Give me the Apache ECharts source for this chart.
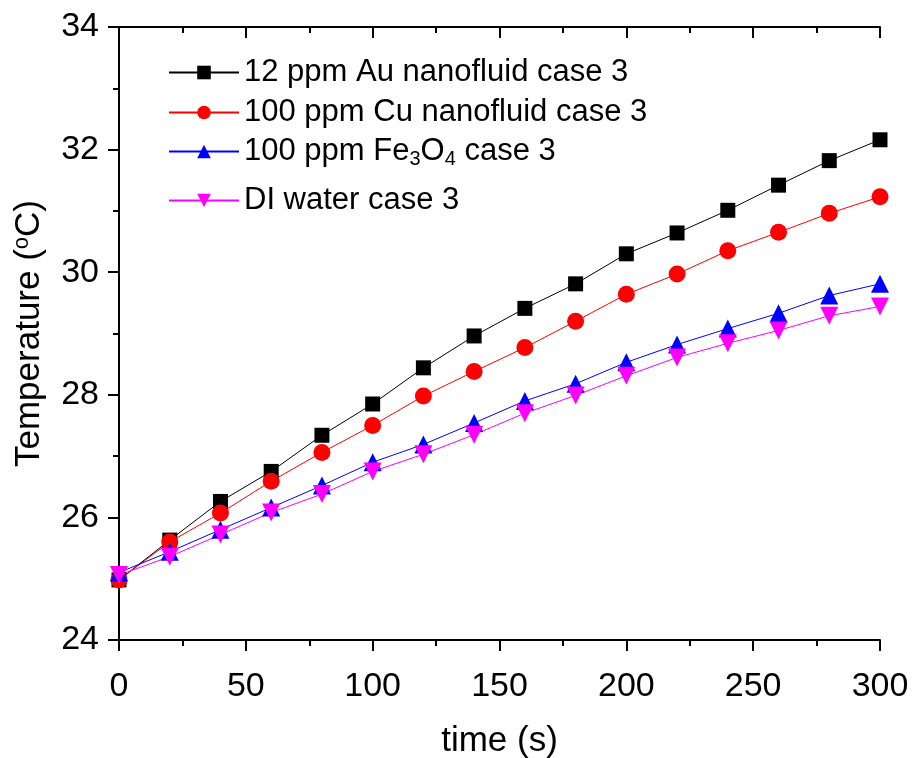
<!DOCTYPE html>
<html>
<head>
<meta charset="utf-8">
<script src="https://cdn.jsdelivr.net/npm/echarts@6/dist/echarts.min.js"></script>
<style>html,body{margin:0;padding:0;background:#fff}#c{width:915px;height:758px}</style>
</head>
<body>
<div id="c"></div>
<script>
const timeS = [0, 20, 40, 60, 80, 100, 120, 140, 160, 180, 200, 220, 240, 260, 280, 300];
const auCase3 = [24.98, 25.63, 26.26, 26.75, 27.34, 27.85, 28.44, 28.96, 29.41, 29.81, 30.30, 30.64, 31.01, 31.42, 31.82, 32.16];
const cuCase3 = [24.98, 25.60, 26.07, 26.59, 27.06, 27.50, 27.98, 28.38, 28.77, 29.20, 29.64, 29.97, 30.35, 30.65, 30.96, 31.23];
const fe3o4Case3 = [25.10, 25.44, 25.80, 26.16, 26.52, 26.90, 27.19, 27.54, 27.90, 28.18, 28.53, 28.82, 29.08, 29.33, 29.62, 29.81];
const diWaterCase3 = [25.06, 25.36, 25.72, 26.08, 26.38, 26.75, 27.03, 27.35, 27.70, 27.99, 28.31, 28.61, 28.84, 29.05, 29.29, 29.44];
const seriesNames = ['12 ppm Au nanofluid case 3', '100 ppm Cu nanofluid case 3', '100 ppm Fe3O4 case 3', 'DI water case 3'];
const xTicks = [0, 50, 100, 150, 200, 250, 300];
const yTicks = [24, 26, 28, 30, 32, 34];

const FONT = 'Liberation Sans, Arial, sans-serif';
const pairs = arr => timeS.map((t, i) => [t, arr[i]]);

const chart = echarts.init(document.getElementById('c'), null, {renderer: 'canvas'});

function mkLegend(idx, top) {
  return {
    data: [seriesNames[idx]],
    left: 163, top: top,
    orient: 'vertical',
    itemWidth: 70, itemHeight: 17,
    itemGap: 0,
    formatter: function (n) {
      if (n.indexOf('Fe3O4') >= 0) return '100 ppm Fe{sub|3}O{sub|4} case 3';
      return n;
    },
    textStyle: {
      fontFamily: FONT, fontSize: 31, color: '#000',
      rich: { sub: { fontFamily: FONT, fontSize: 20, color: '#000', padding: [16, 0, 0, 0] } }
    }
  };
}

const axisCommon = {
  axisLine: { show: true, lineStyle: { color: '#000', width: 2 } },
  splitLine: { show: false }
};

const option = {
  animation: false,
  backgroundColor: '#fff',
  grid: { left: 119, right: 35, top: 27, bottom: 118, containLabel: false, outerBoundsMode: 'none' },
  legend: [mkLegend(0, 52), mkLegend(1, 92), mkLegend(2, 131), mkLegend(3, 180)],
  xAxis: [
    Object.assign({}, axisCommon, {
      type: 'value', min: xTicks[0], max: xTicks[xTicks.length - 1], interval: 50,
      name: 'time (s)', nameLocation: 'middle', nameGap: 84,
      nameTextStyle: { fontFamily: FONT, fontSize: 35, color: '#000' },
      axisTick: { show: true, inside: false, length: 11, lineStyle: { color: '#000', width: 2 } },
      minorTick: { show: true, splitNumber: 2, length: 6, lineStyle: { color: '#000', width: 2 } },
      axisLabel: { fontFamily: FONT, fontSize: 34, color: '#000', margin: 30 }
    }),
    Object.assign({}, axisCommon, {
      type: 'value', position: 'top', min: xTicks[0], max: xTicks[xTicks.length - 1], interval: 50,
      axisTick: { show: true, inside: true, length: 11, lineStyle: { color: '#000', width: 2 } },
      minorTick: { show: true, splitNumber: 2, length: 6, lineStyle: { color: '#000', width: 2 } },
      axisLabel: { show: false }
    })
  ],
  yAxis: [
    Object.assign({}, axisCommon, {
      type: 'value', min: yTicks[0], max: yTicks[yTicks.length - 1], interval: 2,
      name: 'Temperature ({sup|o}C)', nameLocation: 'middle', nameGap: 72,
      nameTextStyle: { fontFamily: FONT, fontSize: 35, color: '#000',
        rich: { sup: { fontFamily: FONT, fontSize: 22, color: '#000', padding: [0, 0, 14, 0] } } },
      axisTick: { show: true, inside: false, length: 11, lineStyle: { color: '#000', width: 2 } },
      minorTick: { show: true, splitNumber: 2, length: 6, lineStyle: { color: '#000', width: 2 } },
      axisLabel: { fontFamily: FONT, fontSize: 34, color: '#000', margin: 20 }
    }),
    Object.assign({}, axisCommon, {
      type: 'value', position: 'right', min: yTicks[0], max: yTicks[yTicks.length - 1], interval: 2,
      axisTick: { show: true, inside: true, length: 11, lineStyle: { color: '#000', width: 2 } },
      minorTick: { show: true, splitNumber: 2, length: 6, lineStyle: { color: '#000', width: 2 } },
      axisLabel: { show: false }
    })
  ],
  series: [
    { name: seriesNames[0], type: 'line', data: pairs(auCase3), symbol: 'rect', symbolSize: 15,
      itemStyle: { color: '#000' }, lineStyle: { color: '#000', width: 1 } },
    { name: seriesNames[1], type: 'line', data: pairs(cuCase3), symbol: 'circle', symbolSize: 17,
      itemStyle: { color: '#ff0000' }, lineStyle: { color: '#ff0000', width: 1 } },
    { name: seriesNames[2], type: 'line', data: pairs(fe3o4Case3), symbol: 'triangle', symbolSize: 18,
      itemStyle: { color: '#0000ff' }, lineStyle: { color: '#0000ff', width: 1 } },
    { name: seriesNames[3], type: 'line', data: pairs(diWaterCase3), symbol: 'triangle', symbolRotate: 180, symbolSize: 18,
      itemStyle: { color: '#ff00ff' }, lineStyle: { color: '#ff00ff', width: 1 } }
  ]
};
chart.setOption(option);
</script>
</body>
</html>
